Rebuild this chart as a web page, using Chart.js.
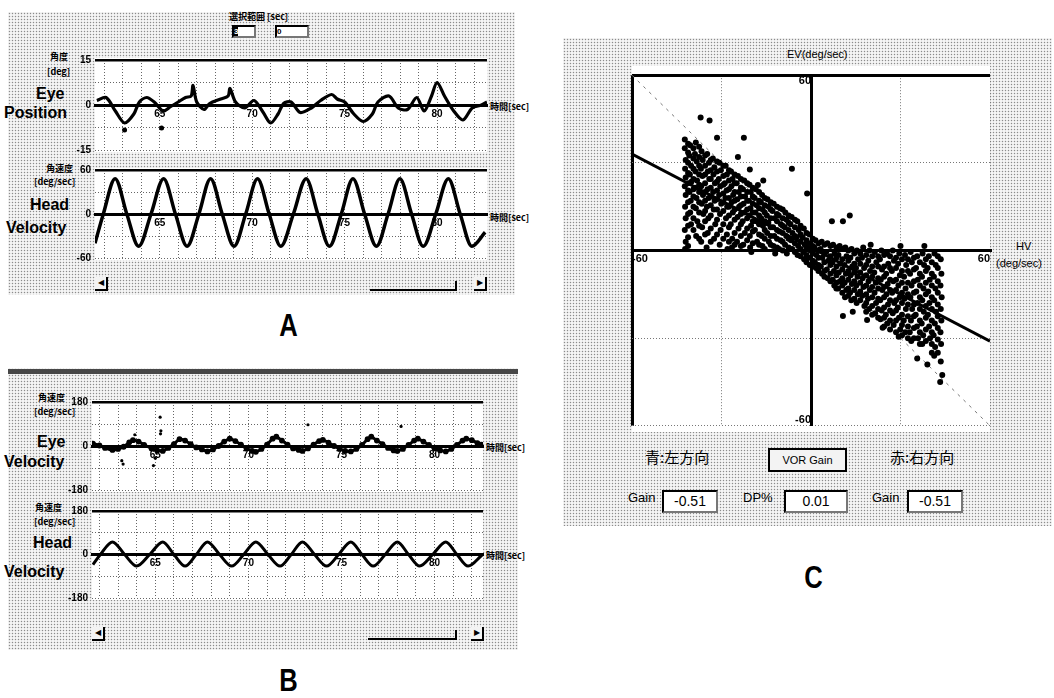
<!DOCTYPE html>
<html>
<head>
<meta charset="utf-8">
<script src="https://cdn.jsdelivr.net/npm/chart.js@4.4.1/dist/chart.umd.min.js"></script>
<style>
body{margin:0;width:1054px;height:698px;background:#fff;position:relative;overflow:hidden;font-family:"Liberation Sans",Arial,sans-serif;color:#000}
.panel{position:absolute;background-color:#f5f5f5;background-image:radial-gradient(circle,#8c8c8c 0.7px,transparent 1.05px);background-size:3px 3px}
.white{position:absolute;background:#fff}
.t{position:absolute;white-space:nowrap;line-height:1}
.jp{font-family:"Noto Sans CJK JP",sans-serif;font-weight:bold;font-size:9px}
.big{font-weight:bold;font-size:16px}
.btn{position:absolute;width:11px;height:12px;border-right:2px solid #000;border-bottom:2px solid #000;background:#f3f3f3;font-size:8px;text-align:center;line-height:12px}
.box{position:absolute;background:#fff;border:2px solid #000;border-right-color:#777;border-bottom-color:#777;font-size:14px;text-align:center}
.letter{position:absolute;font-family:"Liberation Sans Narrow","Liberation Sans",sans-serif;font-weight:bold;font-size:32px;transform:scaleX(0.8)}
canvas{position:absolute}
</style>
</head>
<body>
<!-- panel A -->
<div class="panel" style="left:8px;top:12px;width:507px;height:283px"></div>
<div class="white" style="left:95px;top:58px;width:392px;height:94px"></div>
<div class="white" style="left:95px;top:168px;width:392px;height:92px"></div>
<div class="t jp" style="left:229px;top:12px">選択範囲 [sec]</div>
<div class="box" style="left:232px;top:25px;width:20px;height:9px;font-size:8px;line-height:9px;text-align:left"><span style="background:#000;color:#fff;font-weight:bold">3</span></div>
<div class="box" style="left:275px;top:25px;width:30px;height:9px;font-size:8px;line-height:9px;text-align:left;font-weight:bold">0</div>
<div class="t jp" style="left:50px;top:52px">角度</div>
<div class="t jp" style="left:47px;top:67px">[deg]</div>
<div class="t big" style="left:36px;top:86px">Eye</div>
<div class="t big" style="left:4px;top:105px">Position</div>
<div class="t jp" style="left:490px;top:102px">時間[sec]</div>
<div class="t jp" style="left:46px;top:164px">角速度</div>
<div class="t jp" style="left:34px;top:177px">[deg/sec]</div>
<div class="t big" style="left:30px;top:197px">Head</div>
<div class="t big" style="left:6px;top:220px">Velocity</div>
<div class="t jp" style="left:490px;top:213px">時間[sec]</div>
<div class="btn" style="left:95px;top:277px">◀</div>
<div class="btn" style="left:474px;top:277px">▶</div>
<div style="position:absolute;left:370px;top:281px;width:85px;height:8px;border-right:2px solid #000;border-bottom:2px solid #000"></div>
<div class="letter" style="left:277px;top:307px">A</div>

<!-- panel B -->
<div class="panel" style="left:8px;top:368px;width:510px;height:282px"></div>
<div style="position:absolute;left:8px;top:369px;width:510px;height:5px;background-image:radial-gradient(circle,#444 0.7px,transparent 1px);background-size:2px 2px;background-color:#ccc"></div>
<div class="white" style="left:92px;top:400px;width:391px;height:92px"></div>
<div class="white" style="left:92px;top:509px;width:391px;height:91px"></div>
<div class="t jp" style="left:38px;top:393px">角速度</div>
<div class="t jp" style="left:34px;top:407px">[deg/sec]</div>
<div class="t big" style="left:37px;top:434px">Eye</div>
<div class="t big" style="left:4px;top:454px">Velocity</div>
<div class="t jp" style="left:486px;top:443px">時間[sec]</div>
<div class="t jp" style="left:35px;top:503px">角速度</div>
<div class="t jp" style="left:34px;top:517px">[deg/sec]</div>
<div class="t big" style="left:33px;top:535px">Head</div>
<div class="t big" style="left:4px;top:564px">Velocity</div>
<div class="t jp" style="left:486px;top:551px">時間[sec]</div>
<div class="btn" style="left:92px;top:627px">◀</div>
<div class="btn" style="left:471px;top:627px">▶</div>
<div style="position:absolute;left:368px;top:630px;width:87px;height:8px;border-right:2px solid #000;border-bottom:2px solid #000"></div>
<div class="letter" style="left:277px;top:662px">B</div>

<!-- panel C -->
<div class="panel" style="left:563px;top:38px;width:489px;height:488px"></div>
<div class="white" style="left:632px;top:66px;width:358px;height:366px"></div>
<div class="t" style="left:787px;top:49px;font-size:11px">EV(deg/sec)</div>
<div class="t" style="left:1016px;top:241px;font-size:11px">HV</div>
<div class="t" style="left:996px;top:258px;font-size:11px">(deg/sec)</div>
<div class="t" style="left:645px;top:449px;font-size:15px;font-family:'Noto Sans CJK JP',sans-serif">青:左方向</div>
<div style="position:absolute;left:768px;top:448px;width:75px;height:20px;border:2px solid #000;background:#f3f3f3;font-size:11px;text-align:center;line-height:20px">VOR Gain</div>
<div class="t" style="left:890px;top:449px;font-size:15px;font-family:'Noto Sans CJK JP',sans-serif">赤:右方向</div>
<div class="t" style="left:628px;top:491px;font-size:13px">Gain</div>
<div class="box" style="left:662px;top:490px;width:52px;height:19px;line-height:19px">-0.51</div>
<div class="t" style="left:743px;top:491px;font-size:13px">DP%</div>
<div class="box" style="left:784px;top:490px;width:60px;height:19px;line-height:19px">0.01</div>
<div class="t" style="left:872px;top:491px;font-size:13px">Gain</div>
<div class="box" style="left:907px;top:490px;width:52px;height:19px;line-height:19px">-0.51</div>
<div class="letter" style="left:802px;top:559px">C</div>

<script>
// ---- A: eye position (deg) ----
const aEyeTime = [61.6,62.1,62.6,63.1,63.6,63.9,64.3,64.7,65.2,65.6,66.0,66.4,66.7,66.8,67.0,67.4,67.7,68.3,68.7,68.8,69.1,69.6,70.1,70.6,71.0,71.4,71.7,72.1,72.6,73.2,73.7,74.3,74.6,75.0,75.5,76.0,76.5,76.8,77.4,77.9,78.4,78.9,79.3,79.7,80.0,80.4,80.9,81.4,81.9,82.4,82.7]
const aEyePos  = [1.5,2.5,-2,-6,-3,1,2.5,1,-2,-0.5,1,2.5,3,6.5,1,-1.5,0.5,2,3,5.5,1,-1,1.5,-2.5,-6,-3,0.5,1,-2.5,-1,1.5,3.5,2,1,-3,-5.5,-3,1,3,-1,-1.5,2.5,-2,3,7.5,3,-2,-5,-1,0,1]
const aEyeDotTime = [63.1, 65.1]
const aEyeDotPos  = [-8.3, -7.7]
// ---- A: head velocity (deg/sec) ----
const aHeadTime = [61.5,61.95,62.59,63.22,63.86,64.53,65.21,65.85,66.48,67.12,67.75,68.38,69.02,69.65,70.29,70.92,71.55,72.23,72.92,73.55,74.18,74.82,75.45,76.08,76.72,77.35,77.99,78.62,79.25,79.93,80.61,81.25,81.88,82.6]
const aHeadVel  = [-40,0,48,0,-44,0,48,0,-44,0,48,0,-44,0,48,0,-44,0,48,0,-44,0,48,0,-44,0,48,0,-44,0,48,0,-44,-25]
// ---- B: eye velocity (deg/sec) ----
const bEyeTime = [61.65,62.0,62.3,62.7,63.0,63.3,63.6,63.8,64.1,64.4,64.8,65.1,65.4,65.7,66.0,66.3,66.6,66.9,67.2,67.5,67.8,68.1,68.4,68.7,69.0,69.3,69.6,69.9,70.2,70.4,70.7,71.0,71.3,71.5,71.8,72.1,72.4,72.7,72.9,73.2,73.5,73.8,74.0,74.3,74.6,74.9,75.2,75.5,75.8,76.1,76.4,76.6,76.9,77.2,77.5,77.8,78.0,78.3,78.6,78.9,79.1,79.4,79.7,80.0,80.3,80.6,80.9,81.2,81.5,81.7,82.0,82.3,82.5]
const bEyeVel  = [10,2,-8,-16,-12,-3,15,24,18,5,-10,-18,-20,-8,8,28,22,8,-6,-14,-22,-14,0,18,30,20,6,-10,-20,-24,-12,6,30,38,22,6,-10,-16,-20,-10,6,20,25,14,0,-12,-20,-22,-12,4,28,38,22,8,-8,-18,-20,-12,4,22,30,18,4,-10,-18,-22,-12,4,22,30,24,12,6]
const bSpikeTime = [63.27,63.2,63.9,64.9,65.0,65.26,65.3,65.28,73.2,78.2]
const bSpikeVel  = [-74,-60,46,-80,-50,118,62,50,87,80]
// ---- B: head velocity (deg/sec) ----
const bHeadTime = [61.65,62.05,62.7,63.35,64.0,64.7,65.4,66.0,66.6,67.2,67.8,68.45,69.1,69.75,70.4,71.05,71.7,72.3,72.9,73.55,74.2,74.85,75.5,76.1,76.7,77.35,78.0,78.6,79.2,79.9,80.6,81.2,81.8,82.55]
const bHeadVel  = [-42,0,52,0,-48,0,52,0,-48,0,52,0,-48,0,52,0,-48,0,52,0,-48,0,52,0,-48,0,52,0,-48,0,52,0,-48,-2]
const timeTicks = [62,63,64,65,66,67,68,69,70,71,72,73,74,75,76,77,78,79,80,81,82]

// ---- C: head velocity (HV) vs eye velocity (EV) ----
const cloud = [
[-42.3,38],[-42.3,35],[-42,31],[-42.2,28],[-42,25],[-42.3,22],[-42,19],[-42.2,15],[-42,11],[-42.3,7],[-42,3],[-42.2,0.5],
[-40.5,36],[-40.8,32.5],[-40.2,29],[-40.6,26],[-40.1,23.5],[-40.7,20],[-40.3,17],[-40.5,13],[-40.2,9],
[-38.6,37],[-38.9,33],[-38.3,30.5],[-38.7,27],[-38.2,24],[-38.8,21.5],[-38.4,18],[-38.6,14.5],[-38.1,10],[-38.5,5],
[-36.7,34],[-36.3,31],[-36.9,28],[-36.4,25.5],[-36.8,22],[-36.2,19],[-36.6,16],[-36.1,12.5],[-36.5,8],[-36.8,3],
[-34.8,33],[-34.2,30],[-34.6,27],[-34.1,24.5],[-34.7,21],[-34.3,18],[-34.9,15],[-34.4,11],[-34.6,6],
[-32.9,31.5],[-32.4,28.5],[-32.7,26],[-32.2,23],[-32.8,20],[-32.3,17],[-32.6,14],[-32.1,9],[-32.5,4],
[-30.7,30],[-30.2,27.5],[-30.9,24.5],[-30.4,22],[-30.8,19],[-30.1,16],[-30.5,12.5],[-30.3,7],[-30.6,2],
[-28.6,29],[-28.2,26],[-28.9,23],[-28.3,20.5],[-28.7,18],[-28.1,15],[-28.5,11],[-28.2,5.5],
[-26.8,27],[-26.3,24.5],[-26.7,22],[-26.1,19],[-26.6,16.5],[-26.2,13],[-26.9,9],[-26.4,4],[-26.5,1],
[-24.5,25.5],[-24.9,23],[-24.2,20],[-24.7,17.5],[-24.1,15],[-24.6,11.5],[-24.3,7.5],[-24.8,3],
[-22.4,24],[-22.8,21],[-22.1,18.5],[-22.6,16],[-22.3,13],[-22.9,10],[-22.2,6],[-22.7,2],
[-20.6,22.5],[-20.2,20],[-20.8,17],[-20.3,14.5],[-20.7,12],[-20.1,8.5],[-20.5,5],[-20.4,1],
[-18.5,21],[-18.9,18],[-18.2,15.5],[-18.6,13],[-18.3,10],[-18.8,7],[-18.1,3],
[-16.4,19],[-16.8,16.5],[-16.2,14],[-16.7,11],[-16.1,8.5],[-16.5,5],[-16.3,1.5],
[-14.6,17.5],[-14.2,15],[-14.8,12],[-14.3,9.5],[-14.7,6],[-14.1,3],
[-12.5,16],[-12.9,13.5],[-12.2,11],[-12.7,8],[-12.3,5],[-12.6,1.5],
[-10.4,14.5],[-10.8,12],[-10.1,9],[-10.6,6.5],[-10.2,3.5],[-10.7,0.5],
[-8.6,13],[-8.2,10.5],[-8.8,8],[-8.3,5],[-8.7,2],[-8.1,-1],
[-6.5,11.5],[-6.9,9],[-6.2,6],[-6.7,3.5],[-6.3,0.5],
[-4.6,10],[-4.1,7],[-4.8,4.5],[-4.3,1.5],[-4.5,-1.5],
[-2.4,7.5],[-2.8,4.5],[-2.1,2],[-2.6,-0.5],[-2.3,-3],
[-0.5,5.5],[-0.9,2.5],[-0.2,0],[-0.7,-2.5],[-0.4,-5],
[1.5,3.5],[1.2,1],[1.8,-1.5],[1.3,-4],[1.7,-6],
[3.6,3],[3.2,0.5],[3.8,-2.5],[3.3,-5.5],[3.7,-8],
[5.5,2.5],[5.1,-0.5],[5.8,-3.5],[5.3,-6.5],[5.6,-9.5],
[7.4,2],[7.9,-1],[7.2,-4],[7.7,-7],[7.3,-10],[7.8,-12],
[9.6,1.5],[9.2,-1.5],[9.8,-4.5],[9.3,-7.5],[9.7,-10.5],[9.1,-13],
[11.5,1],[11.9,-2],[11.2,-5],[11.7,-8],[11.3,-11],[11.8,-13.5],[11.4,-16],
[13.6,0.5],[13.2,-2.5],[13.8,-5.5],[13.3,-8.5],[13.7,-11.5],[13.1,-14.5],[13.5,-17],
[15.4,0],[15.8,-3],[15.1,-6],[15.6,-9],[15.2,-12],[15.7,-15],[15.3,-18],
[17.5,1],[17.1,-2.5],[17.8,-6],[17.3,-9.5],[17.6,-12.5],[17.2,-15.5],[17.9,-19],
[19.6,0],[19.2,-3.5],[19.8,-7],[19.3,-10.5],[19.7,-13.5],[19.1,-16.5],[19.5,-20],
[21.4,-0.5],[21.9,-4],[21.2,-7.5],[21.7,-11],[21.3,-14.5],[21.8,-18],[21.5,-21.5],
[23.6,0],[23.1,-3],[23.8,-6.5],[23.4,-10],[23.9,-13.5],[23.2,-17],[23.7,-20.5],[23.3,-23.5],
[25.5,-1],[25.9,-4.5],[25.2,-8],[25.7,-11.5],[25.3,-15],[25.8,-18.5],[25.1,-22],[25.6,-25],
[27.4,0],[27.8,-3.5],[27.1,-7],[27.6,-10.5],[27.2,-14.5],[27.9,-18],[27.4,-21.5],[27.7,-25.5],
[29.6,-1],[29.2,-4.5],[29.8,-8.5],[29.3,-12],[29.7,-16],[29.1,-19.5],[29.5,-23],[29.9,-27],[29.4,-29.5],
[31.5,-1.5],[31.9,-5],[31.2,-9],[31.7,-13],[31.3,-16.5],[31.8,-20],[31.1,-24],[31.6,-28],
[33.4,-0.5],[33.8,-4],[33.2,-8],[33.7,-12],[33.3,-16],[33.9,-20],[33.5,-24],[33.1,-28],[33.6,-31],
[35.6,-2],[35.2,-6],[35.8,-10],[35.3,-14],[35.7,-18],[35.1,-22],[35.5,-26],[35.9,-30],
[37.4,-1],[37.9,-5],[37.2,-9],[37.7,-13],[37.3,-17],[37.8,-21],[37.1,-25],[37.6,-29],[37.3,-32],
[39.5,-2],[39.1,-6],[39.8,-10],[39.3,-14],[39.7,-18],[39.2,-22],[39.6,-26],[39.9,-30],
[41.4,-1],[41.8,-5],[41.2,-9],[41.7,-13],[41.3,-17],[41.9,-21],[41.5,-25],[41.1,-29],[41.6,-33],[41.3,-36],
[43.5,-3],[43.7,-8],[43.4,-12],[43.8,-16],[43.5,-20],[43.7,-24],[43.4,-28],[43.6,-32],[43.5,-38],
[-37,45.5],[-34,44.5],[-31.5,38.6],[-22.5,38.6],[-24.5,32],[-20.5,27.7],[-6.4,28],[-1.3,19.5],[-16,24],[-17.8,22.4],
[13,12],[7,10],[10.7,10],[14,-21],[10.7,-22.4],[18.8,-23.8],[24,-26.4],[35.6,-37],[39,-39],[44,-42.6],[43.3,-45],
[-35,1],[-28,0.5],[-20,-0.5],[-12,-1],[20,2],[30,1.5],[38,1.5]
]
// second, in-between columns of the dense cloud: [HV, [EV, ...]]
const cloudFill = [
[-41.2,[36.5,33.5,30,26.5,23,20.5,16.5,12.5,8.5,4.5,1.5]],
[-39.4,[35,31.5,28,24.5,21,18.5,15,11,7]],
[-37.5,[35.5,32,29,26,22.5,20,16.5,13,8.5,4]],
[-35.5,[32.5,29,26,23,20,17,13.5,10,5.5]],
[-33.6,[31,27.5,24.5,21.5,18.5,15.5,12,7.5,3]],
[-31.5,[30.5,27,23.5,20.5,17.5,14,10.5,5.5]],
[-29.4,[29,25.5,22.5,19.5,16.5,13.5,9,4]],
[-27.5,[27.5,24,21,18,15,12,8,3]],
[-25.6,[26,23,20,17,14,10.5,6,2]],
[-23.5,[24.5,21.5,18.5,15.5,12.5,9,5,1.5]],
[-21.4,[23,20,17,14,11,7.5,3.5]],
[-19.5,[21.5,18.5,16,13,10,6.5,2.5]],
[-17.4,[20,17,14.5,12,9,5.5,2]],
[-15.5,[18,15.5,13,10,7,4,0.5]],
[-13.5,[16.5,14,11,8,5,2]],
[-11.4,[15,12.5,10,7,4,1]],
[-9.5,[14,11,8.5,6,3,0]],
[-7.5,[12,9.5,7,4,1]],
[-5.4,[10.5,8,5,2.5,-0.5]],
[-3.5,[8.5,5.5,3,0.5,-2]],
[-1.5,[6,3.5,1,-1.5,-4]],
[0.6,[4,1.5,-1,-3.5,-5.5]],
[2.5,[2.5,0,-2.5,-5,-7]],
[4.5,[2,-1,-4,-7,-9]],
[6.5,[1.5,-2,-5,-8,-10.5]],
[8.5,[1,-2.5,-5.5,-8.5,-11,-13]],
[10.5,[0.5,-3,-6.5,-9.5,-12,-14.5]],
[12.5,[0,-3.5,-7,-10,-13,-15.5]],
[14.5,[-1,-4.5,-7.5,-10.5,-13.5,-16.5]],
[16.5,[-1,-4.5,-7.5,-11,-14,-17]],
[18.5,[-1.5,-5,-8.5,-12,-15,-18,-21]],
[20.5,[-2,-5.5,-9,-12.5,-16,-19,-22]],
[22.5,[-2,-5.5,-9.5,-13,-16.5,-20,-23]],
[24.5,[-1.5,-5.5,-9,-12.5,-16,-19.5,-23,-26]],
[26.5,[-2,-6,-10,-13.5,-17,-20.5,-24,-27]],
[28.5,[-2.5,-6,-10,-13.5,-17,-20.5,-24,-28]],
[30.5,[-3,-7,-11,-14.5,-18,-22,-25.5,-29]],
[32.5,[-3,-7,-11,-15,-18.5,-22.5,-26,-30]],
[34.5,[-2.5,-6.5,-10.5,-14.5,-18.5,-22.5,-26.5,-30]],
[36.5,[-4,-8,-12,-16,-20,-24,-28,-32]],
[38.5,[-3,-7,-11,-15,-19,-23,-27,-31]],
[40.5,[-4,-8,-12,-16,-20,-24,-28,-32,-35]],
[42.5,[-2,-6,-10.5,-14.5,-18.5,-22.5,-26.5,-30.5,-35]]
]
const fitHV = [-60, 60]
const fitEV = [33, -31]
const unityEV = [60, -60]
const cTicks = [-60, -30, 0, 30, 60]

function addCanvas(left, top, w, h) {
  const c = document.createElement('canvas')
  c.width = w; c.height = h
  c.style.left = left + 'px'; c.style.top = top + 'px'
  c.style.width = w + 'px'; c.style.height = h + 'px'
  document.body.appendChild(c)
  return c
}
function pts(xs, ys) { return xs.map((x, i) => ({x: x, y: ys[i]})) }

const tickFont = {family: 'Liberation Sans', size: 10, weight: 'bold'}

// one strip chart: plot = [left, top, width, height] of the plot area
function traceChart(plot, tMin, tMax, yMax, datasets) {
  const padL = 34, padT = 8, padR = 10, padB = 8
  const cv = addCanvas(plot[0] - padL, plot[1] - padT, plot[2] + padL + padR, plot[3] + padT + padB)
  return new Chart(cv, {
    type: 'line',
    data: {datasets: datasets},
    options: {
      responsive: false, animation: false,
      layout: {padding: {top: padT, bottom: padB, right: padR, left: 0}},
      plugins: {legend: {display: false}, tooltip: {enabled: false}},
      scales: {
        x: {
          type: 'linear', min: tMin, max: tMax, position: {y: 0},
          afterBuildTicks: s => { s.ticks = timeTicks.map(v => ({value: v})) },
          grid: {color: '#666', lineWidth: 1, drawTicks: false},
          border: {color: '#000', width: 3, dash: [1, 2]},
          ticks: {callback: v => (v % 5 === 0 ? String(v) : ''), font: tickFont, color: '#000', padding: 3, autoSkip: false, maxRotation: 0}
        },
        y: {
          min: -yMax, max: yMax,
          afterFit: s => { s.width = padL },
          afterBuildTicks: s => { s.ticks = [-yMax, -yMax / 2, 0, yMax / 2, yMax].map(v => ({value: v})) },
          grid: {
            drawTicks: false,
            color: c => c.tick.value === yMax ? '#000' : (c.tick.value === 0 ? 'rgba(0,0,0,0)' : '#666'),
            lineWidth: c => c.tick.value === yMax ? 2.5 : (c.tick.value === 0 ? 0 : 1)
          },
          border: {display: false, dash: c => (c.tick && c.tick.value === yMax) ? [] : [1, 2]},
          ticks: {callback: v => (Math.abs(v) === yMax || v === 0) ? String(v) : '', font: tickFont, color: '#000', padding: 4}
        }
      }
    }
  })
}

const lineStyle = {borderColor: '#000', borderWidth: 3.5, pointRadius: 0, fill: false, cubicInterpolationMode: 'monotone'}

traceChart([95, 58, 392, 94], 61.5, 82.7, 15, [
  {data: pts(aEyeTime, aEyePos), borderColor: '#000', borderWidth: 3.2, pointRadius: 0, tension: 0.3},
  {data: pts(aEyeDotTime, aEyeDotPos), showLine: false, pointRadius: 2.5, backgroundColor: '#000', borderWidth: 0}
])
traceChart([95, 168, 392, 92], 61.5, 82.7, 60, [
  Object.assign({data: pts(aHeadTime, aHeadVel)}, lineStyle)
])
traceChart([92, 400, 391, 92], 61.6, 82.6, 180, [
  {data: pts(bEyeTime, bEyeVel), borderColor: '#000', borderWidth: 3, pointRadius: 1.4, backgroundColor: '#000', tension: 0.2},
  {data: pts(bSpikeTime, bSpikeVel), showLine: false, pointRadius: 1.6, backgroundColor: '#000', borderWidth: 0}
])
traceChart([92, 509, 391, 91], 61.6, 82.6, 180, [
  Object.assign({data: pts(bHeadTime, bHeadVel)}, lineStyle, {borderWidth: 3})
])

// scatter C, plot area 632..990 x 66..432
const cloudPoints = cloud.map(p => ({x: p[0], y: p[1]}))
cloudFill.forEach(col => col[1].forEach(ev => cloudPoints.push({x: col[0], y: ev})))

const cv = addCanvas(600, 56, 410, 389)
new Chart(cv, {
  type: 'scatter',
  data: {
    datasets: [
      {data: cloudPoints, pointRadius: 3, backgroundColor: '#000', borderWidth: 0},
      {data: pts(fitHV, fitEV), showLine: true, borderColor: '#000', borderWidth: 3, pointRadius: 0},
      {data: pts(fitHV, unityEV), showLine: true, borderColor: '#777', borderWidth: 1, borderDash: [3, 5], pointRadius: 0}
    ]
  },
  options: {
    responsive: false, animation: false,
    layout: {padding: {left: 32, right: 20, top: 10, bottom: 13}},
    plugins: {legend: {display: false}, tooltip: {enabled: false}},
    scales: {
      x: {
        type: 'linear', min: -60, max: 60, position: {y: 0},
        afterBuildTicks: s => { s.ticks = cTicks.map(v => ({value: v})) },
        grid: {
          drawTicks: false,
          color: c => c.tick.value === -60 ? '#000' : (c.tick.value === 0 ? 'rgba(0,0,0,0)' : '#777'),
          lineWidth: c => c.tick.value === -60 ? 3 : (c.tick.value === 0 ? 0 : 1)
        },
        border: {color: '#000', width: 3, dash: c => (c.tick && c.tick.value === -60) ? [] : [1, 2]},
        ticks: {callback: v => (Math.abs(v) === 60 ? String(v) : ''), align: 'inner', font: {family: 'Liberation Sans', size: 11, weight: 'bold'}, color: '#000', padding: 2, autoSkip: false, maxRotation: 0}
      },
      y: {
        min: -60, max: 60, position: {x: 0},
        afterBuildTicks: s => { s.ticks = cTicks.map(v => ({value: v})) },
        grid: {
          drawTicks: false,
          color: c => c.tick.value === 60 ? '#000' : (c.tick.value === 0 ? 'rgba(0,0,0,0)' : '#777'),
          lineWidth: c => c.tick.value === 60 ? 3 : (c.tick.value === 0 ? 0 : 1)
        },
        border: {color: '#000', width: 3, dash: c => (c.tick && c.tick.value === 60) ? [] : [1, 2]},
        ticks: {callback: v => (v === 60 ? '60' : ''), align: 'start', font: {family: 'Liberation Sans', size: 11, weight: 'bold'}, color: '#000', padding: 6}
      },
      y2: {
        min: -60, max: 60, position: {x: 0}, axis: 'y',
        afterBuildTicks: s => { s.ticks = cTicks.map(v => ({value: v})) },
        grid: {display: false},
        border: {display: false},
        ticks: {callback: v => (v === -60 ? '-60' : ''), align: 'end', font: {family: 'Liberation Sans', size: 11, weight: 'bold'}, color: '#000', padding: 6}
      }
    }
  }
})
</script>
</body>
</html>
